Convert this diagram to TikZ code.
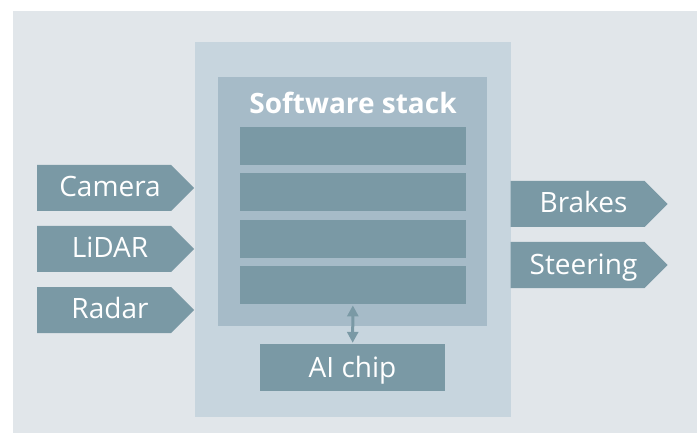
\documentclass[tikz,border=0pt]{standalone}
\usepackage{fontspec}
\setmainfont{Open Sans}
\usetikzlibrary{shapes}
\usetikzlibrary{positioning}
\usetikzlibrary{arrows.meta}
\definecolor{bgcol}{RGB}{225,230,234}
\definecolor{outercol}{RGB}{199,213,222}
\definecolor{innercol}{RGB}{166,187,200}
\definecolor{darkcol}{RGB}{122,153,165}
\tikzset{
    signode/.style = {signal, signal to=east, signal pointer angle=90, fill=darkcol, inner sep=0pt, minimum width=157pt, minimum height=46pt, text height=20pt, text depth=2pt, font=\fontsize{28}{32}\selectfont, text=white},
    layernode/.style = {rectangle, fill=darkcol, inner sep=0pt, minimum width=226pt, minimum height=38pt},
    chipnode/.style = {rectangle, fill=darkcol, inner sep=0pt, minimum width=185pt, minimum height=47pt, text height=20pt, text depth=1pt, font=\fontsize{28}{32}\selectfont, text=white},
    edgea/.style = {{Triangle[width=11pt,length=11pt]}-{Triangle[width=11pt,length=11pt]}, line width=3pt, darkcol, shorten <=1pt, shorten >=1pt}
}
\newcommand{\sigtext}[1]{\hspace*{12pt}#1}
\begin{document}
\begin{tikzpicture}[x=1pt,y=-1pt]
%
\fill[white] (0,0) rectangle (697,433);
\fill[bgcol] (13,11) rectangle (697,433);
\node[rectangle, fill=outercol, minimum width=316pt, minimum height=375pt] at (353,229.5) (outer) {};
\node[rectangle, fill=innercol, minimum width=269pt, minimum height=249pt] at (352.5,201.5) (stack) {};
\node[font=\bfseries\fontsize{28}{32}\selectfont, text=white] at (353,103) (title) {Software stack};
%
\node[layernode] at (353,146) (l1) {};
\node[layernode, below=8pt of l1] (l2) {};
\node[layernode, below=8pt of l2] (l3) {};
\node[layernode, below=8pt of l3] (l4) {};
\node[chipnode] at (352.5,367.5) (chip) {AI chip};
%
\node[signode] at (104,188) (cam) {\sigtext{Camera}};
\node[signode] at (104,249) (lidar) {\sigtext{LiDAR}};
\node[signode] at (104,310) (radar) {\sigtext{Radar}};
\node[signode] at (577.5,204) (brakes) {\sigtext{Brakes}};
\node[signode] at (577.5,265) (steer) {\sigtext{Steering}};
%
\draw[edgea] (l4) -- (chip);

\path[use as bounding box] (0,0) rectangle (697,433);

\end{tikzpicture}
\end{document}
